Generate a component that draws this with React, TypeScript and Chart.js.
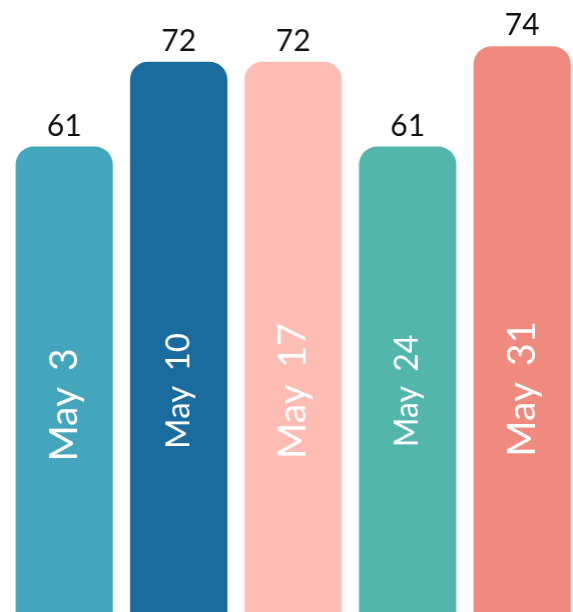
import React, { useEffect, useRef } from "react";
import { Chart, registerables } from "chart.js";

Chart.register(...registerables);

const categories = ["May 3", "May 10", "May 17", "May 24", "May 31"];
const values = [61, 72, 72, 61, 74];
const barColors = ["#43A6BD", "#1B6C9E", "#FEBDB4", "#52B6AC", "#F08A7E"];
const labelFontSizes = [39, 33, 39, 32, 39];
const labelCenterValues = [27.5, 29.3, 29.3, 29.3, 29.6];

const FONT = "Lato, 'Noto Sans', sans-serif";

const labelPlugin = {
  id: "barLabels",
  afterDatasetsDraw(chart: any) {
    const ctx = chart.ctx;
    const meta = chart.getDatasetMeta(0);
    const yScale = chart.scales.y;
    ctx.save();
    meta.data.forEach((bar: any, i: number) => {
      ctx.fillStyle = "#111111";
      ctx.font = `30px ${FONT}`;
      ctx.textAlign = "center";
      ctx.textBaseline = "alphabetic";
      ctx.fillText(String(values[i]), bar.x, bar.y - 11);
      const cy = yScale.getPixelForValue(labelCenterValues[i]);
      ctx.save();
      ctx.translate(bar.x, cy);
      ctx.rotate(-Math.PI / 2);
      ctx.fillStyle = "#FFFFFF";
      ctx.font = `${labelFontSizes[i]}px ${FONT}`;
      (ctx as any).wordSpacing = "6px";
      ctx.textAlign = "center";
      ctx.textBaseline = "middle";
      ctx.fillText(categories[i], 0, 0);
      ctx.restore();
    });
    ctx.restore();
  },
};

export default function App() {
  const canvasRef = useRef<HTMLCanvasElement | null>(null);
  useEffect(() => {
    if (!canvasRef.current) return;
    const chart = new Chart(canvasRef.current, {
      type: "bar",
      data: {
        labels: categories,
        datasets: [
          {
            data: values,
            backgroundColor: barColors,
            borderRadius: 18,
            borderSkipped: "bottom",
            categoryPercentage: 1,
            barPercentage: 0.85,
          },
        ],
      },
      options: {
        animation: false,
        responsive: true,
        maintainAspectRatio: false,
        layout: { padding: 0 },
        plugins: { legend: { display: false }, tooltip: { enabled: false } },
        scales: {
          x: { display: false },
          y: { display: false, min: 0, max: 80 },
        },
      },
      plugins: [labelPlugin],
    });
    return () => chart.destroy();
  }, []);
  return (
    <div style={{ position: "fixed", left: 0, top: 0, width: 573, height: 612, overflow: "hidden", background: "#fff" }}>
      <div style={{ position: "absolute", left: 7.4, top: 0, width: 571.3, height: 617 }}>
        <canvas ref={canvasRef} />
      </div>
    </div>
  );
}
